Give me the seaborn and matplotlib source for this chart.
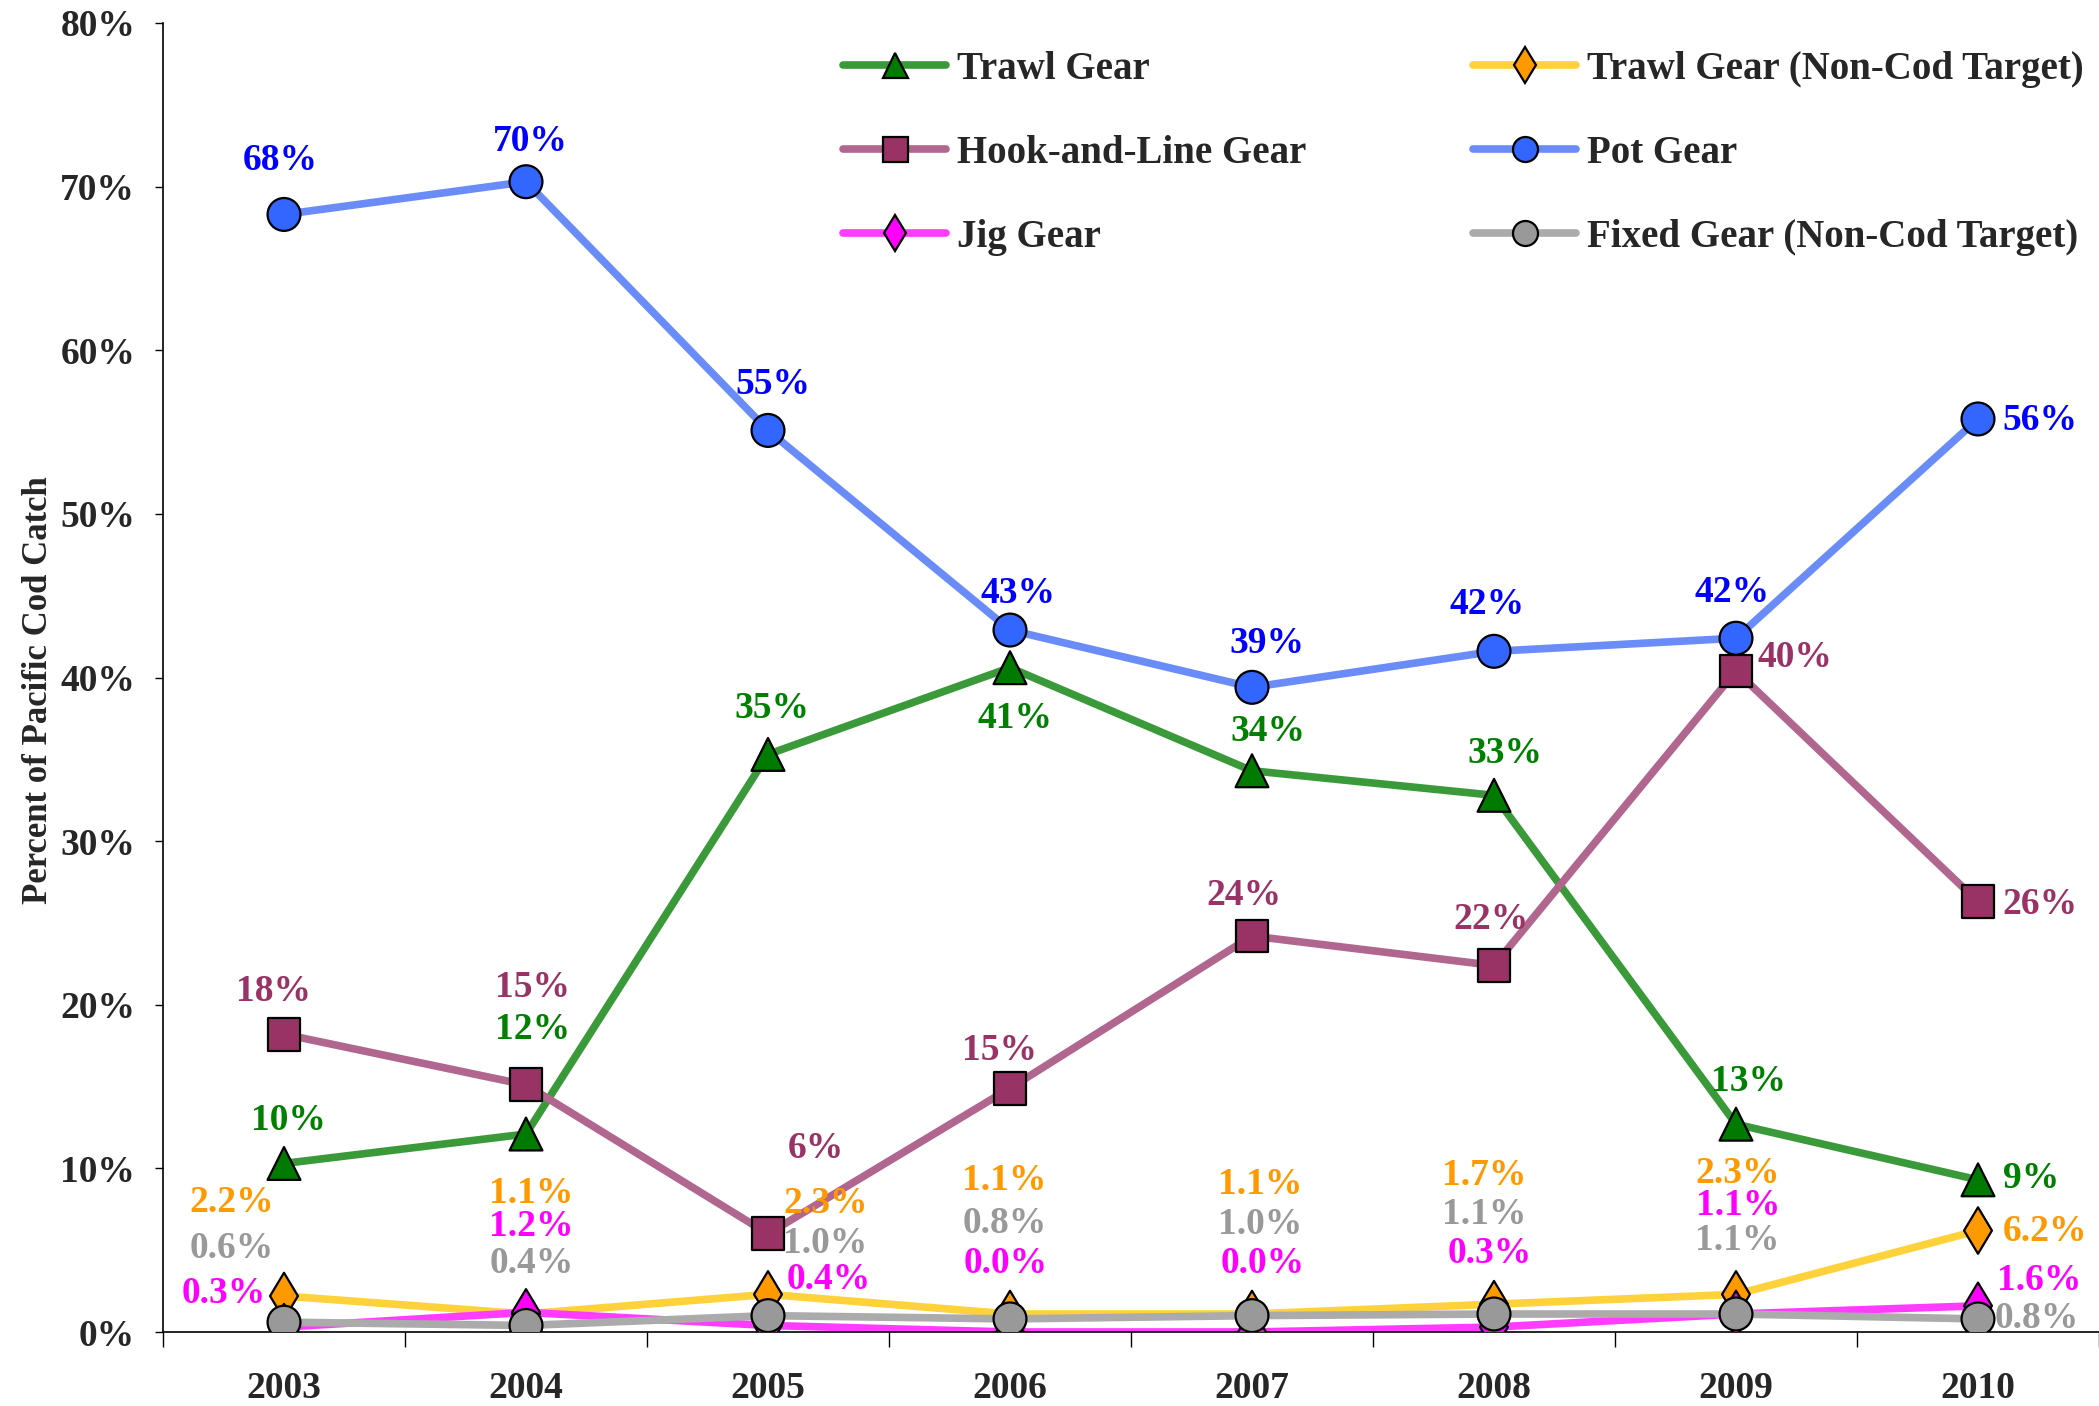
import matplotlib
matplotlib.use('Agg')
import matplotlib.pyplot as plt
import seaborn as sns
import pandas as pd
from matplotlib.lines import Line2D
from matplotlib.ticker import FixedLocator, FuncFormatter

# ---------------- data ----------------
years = [2003, 2004, 2005, 2006, 2007, 2008, 2009, 2010]
trawl = [10.3, 12.1, 35.3, 40.6, 34.3, 32.8, 12.7, 9.3]
hook_line = [18.2, 15.1, 6.0, 14.9, 24.2, 22.4, 40.4, 26.3]
jig = [0.3, 1.2, 0.4, 0.0, 0.0, 0.3, 1.1, 1.6]
trawl_noncod = [2.2, 1.1, 2.3, 1.1, 1.1, 1.7, 2.3, 6.2]
pot = [68.3, 70.3, 55.1, 42.9, 39.4, 41.6, 42.4, 55.8]
fixed_noncod = [0.6, 0.4, 1.0, 0.8, 1.0, 1.1, 1.1, 0.8]

series_names = ['Trawl Gear', 'Hook-and-Line Gear', 'Jig Gear',
                'Trawl Gear (Non-Cod Target)', 'Pot Gear', 'Fixed Gear (Non-Cod Target)']
series_values = [trawl, hook_line, jig, trawl_noncod, pot, fixed_noncod]
y_ticks = [0, 10, 20, 30, 40, 50, 60, 70, 80]

# ---------------- styles ----------------
line_colors = {'Trawl Gear': '#3A9A3A', 'Hook-and-Line Gear': '#B0668F', 'Jig Gear': '#FF3CFF',
               'Trawl Gear (Non-Cod Target)': '#FFD23C', 'Pot Gear': '#6A8CF8',
               'Fixed Gear (Non-Cod Target)': '#ABABAB'}
marker_colors = {'Trawl Gear': '#007A00', 'Hook-and-Line Gear': '#993366', 'Jig Gear': '#FF00FF',
                 'Trawl Gear (Non-Cod Target)': '#FF9900', 'Pot Gear': '#3366FF',
                 'Fixed Gear (Non-Cod Target)': '#999999'}
label_colors = {'Trawl Gear': '#008000', 'Hook-and-Line Gear': '#993366', 'Jig Gear': '#FF00FF',
                'Trawl Gear (Non-Cod Target)': '#FF9900', 'Pot Gear': '#0000FF',
                'Fixed Gear (Non-Cod Target)': '#999999'}
markers = {'Trawl Gear': '^', 'Hook-and-Line Gear': 's', 'Jig Gear': 'd',
           'Trawl Gear (Non-Cod Target)': 'd', 'Pot Gear': 'o',
           'Fixed Gear (Non-Cod Target)': 'o'}
label_fmt = {'Trawl Gear': '{:.0f}%', 'Hook-and-Line Gear': '{:.0f}%', 'Jig Gear': '{:.1f}%',
             'Trawl Gear (Non-Cod Target)': '{:.1f}%', 'Pot Gear': '{:.0f}%',
             'Fixed Gear (Non-Cod Target)': '{:.1f}%'}
# label offsets (points) relative to each point
offsets = {
    'Trawl Gear': [(3, 32), (5, 78), (3, 34), (4, -38), (12, 29), (8, 31), (9, 32), (40, 1)],
    'Hook-and-Line Gear': [(-8, 32), (5, 73), (36, 64), (-8, 28), (-6, 30), (-2, 34), (44, 10), (46, -2)],
    'Pot Gear': [(-3, 40), (3, 30), (4, 34), (6, 27), (11, 33), (-5, 35), (-3, 34), (46, -1)],
    'Trawl Gear (Non-Cod Target)': [(-39, 70), (4, 90), (43, 68), (-4, 100), (6, 97), (-7, 96), (1, 90), (50, -1)],
    'Jig Gear': [(-45, 25), (4, 64), (45, 34), (-3, 51), (8, 51), (-3, 55), (2, 81), (46, 19)],
    'Fixed Gear (Non-Cod Target)': [(-39, 55), (4, 46), (43, 54), (-4, 71), (6, 68), (-7, 74), (1, 55), (44, 0)],
}
draw_order = ['Trawl Gear', 'Hook-and-Line Gear', 'Trawl Gear (Non-Cod Target)', 'Pot Gear',
              'Jig Gear', 'Fixed Gear (Non-Cod Target)']

sns.set_style('white')
plt.rcParams['font.family'] = ['Liberation Serif', 'DejaVu Serif']
plt.rcParams['font.weight'] = 'bold'

rows = []
for name in draw_order:
    vals = series_values[series_names.index(name)]
    for y, v in zip(years, vals):
        rows.append({'year': y, 'value': v, 'series': name})
df = pd.DataFrame(rows)

fig = plt.figure(figsize=(20.99, 14.06), dpi=100)
ax = fig.add_axes([163 / 2099, 1 - 1332 / 1406, 1 - 163 / 2099, (1332 - 23) / 1406])

sns.lineplot(data=df, x='year', y='value', hue='series', hue_order=draw_order,
             palette=line_colors, linewidth=5.5, legend=False, ax=ax, sort=False, zorder=2)
sns.scatterplot(data=df, x='year', y='value', hue='series', hue_order=draw_order,
                style='series', markers=markers, palette=marker_colors, s=560,
                edgecolor='black', linewidth=1.6, legend=False, ax=ax, zorder=3)

FS = 27
LFS = 28
for name in draw_order:
    vals = series_values[series_names.index(name)]
    for y, v, (dx, dy) in zip(years, vals, offsets[name]):
        ax.annotate(label_fmt[name].format(v), (y, v), xytext=(dx * 0.964, dy * 0.964),
                    textcoords='offset points', ha='center', va='center',
                    color=label_colors[name], fontsize=FS, fontweight='bold', zorder=4)

ax.set_xlim(2002.5, 2010.5)
ax.set_ylim(0, 80)
ax.xaxis.set_major_locator(FixedLocator(years))
ax.xaxis.set_minor_locator(FixedLocator([y - 0.5 for y in years] + [2010.5]))
ax.xaxis.set_major_formatter(FuncFormatter(lambda v, p: f'{int(round(v))}'))
ax.yaxis.set_major_locator(FixedLocator(y_ticks))
ax.yaxis.set_major_formatter(FuncFormatter(lambda v, p: f'{v:.0f}%'))
ax.tick_params(axis='x', which='major', length=0, pad=28, labelsize=FS)
ax.tick_params(axis='x', which='minor', length=11, width=1, direction='out', color='black', bottom=True)
ax.tick_params(axis='y', which='major', length=6, width=1, direction='out', color='black', left=True,
               pad=14, labelsize=FS)
for lab in ax.get_xticklabels() + ax.get_yticklabels():
    lab.set_fontweight('bold')
ax.set_xlabel('')
ax.set_ylabel('Percent of Pacific Cod Catch', fontsize=25, fontweight='bold')
ax.yaxis.set_label_coords(-0.056, 0.49)
for s in ['top', 'right']:
    ax.spines[s].set_visible(False)
for s in ['left', 'bottom']:
    ax.spines[s].set_color('black')
    ax.spines[s].set_linewidth(1.2)

def handle(name):
    return Line2D([0], [0], color=line_colors[name], lw=5.5, marker=markers[name],
                  markersize=18, markerfacecolor=marker_colors[name], markeredgecolor='black',
                  markeredgewidth=1.6)

leg_kw = dict(frameon=False, borderpad=0, borderaxespad=0, handlelength=2.66,
              handletextpad=0.26, labelspacing=1.21, loc='upper left', bbox_transform=fig.transFigure,
              prop={'size': LFS, 'weight': 'bold'})
col1 = series_names[:3]
col2 = series_names[3:]
leg1 = ax.legend([handle(n) for n in col1], col1, bbox_to_anchor=(843 / 2099, 1 - 51 / 1406), **leg_kw)
ax.add_artist(leg1)
leg2 = ax.legend([handle(n) for n in col2], col2, bbox_to_anchor=(1473 / 2099, 1 - 51 / 1406), **leg_kw)

fig.savefig('out.png', dpi=100)
